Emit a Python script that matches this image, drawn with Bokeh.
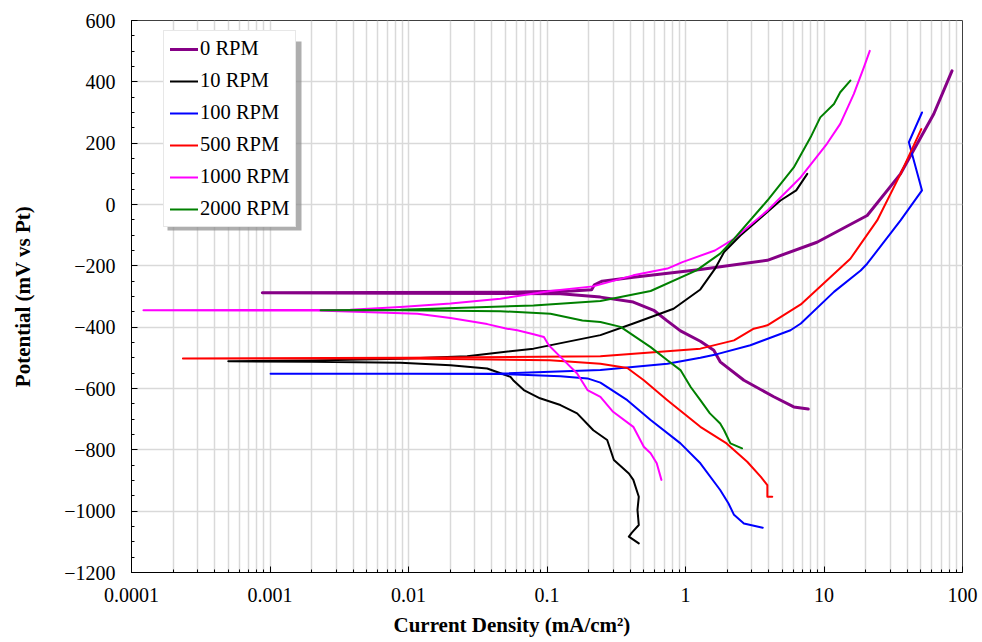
from bokeh.plotting import figure
from bokeh.models import FixedTicker, CustomJSTickFormatter, Legend, LegendItem, Title, BoxAnnotation, Node
from bokeh.embed import file_html
from bokeh.resources import INLINE

# ---- data (current density mA/cm^2, potential mV vs Pt), scan order ----
rpm0_i = [7.7, 6.05, 4.34, 2.64, 1.78, 1.6, 1.28, 0.92, 0.73, 0.59, 0.42, 0.243, 0.125, 0.0088, 0.00088,
          0.05, 0.15, 0.21, 0.22, 0.25, 0.42, 1.28, 3.9, 8.9, 20.5, 35.7, 62, 84]
rpm0_e = [-667, -660, -627, -573, -513, -475, -446, -412, -378, -345, -318, -302, -291, -289, -288,
          -286, -282, -278, -262, -250, -237, -212, -182, -123, -36, 100, 295, 436]

rpm10_i = [0.46, 0.39, 0.41, 0.46, 0.45, 0.46, 0.42, 0.39, 0.304, 0.272, 0.216, 0.165, 0.125, 0.089, 0.068,
           0.057, 0.0545, 0.037, 0.0201, 0.00875, 0.002, 0.0005,
           0.002, 0.00875, 0.0265, 0.08, 0.243, 0.42, 0.82, 1.28, 1.63, 1.9, 2.49, 4.85, 6.3, 7.57]
rpm10_e = [-1105, -1083, -1070, -1045, -996, -953, -898, -877, -833, -768, -736, -681, -654, -632, -605,
           -573, -562, -535, -524, -516, -513, -511,
           -509, -503, -495, -470, -426, -388, -340, -277, -210, -155, -101, 13, 46, 100]

rpm100_i = [3.61, 2.64, 2.24, 2.04, 1.78, 1.28, 0.92, 0.56, 0.38, 0.243, 0.196, 0.125, 0.046, 0.01, 0.00101,
            0.01, 0.046, 0.243, 0.74, 1.28, 1.69, 2.94, 5.73, 6.8, 11.8, 18.4, 20.5, 35.7, 51, 41, 51]
rpm100_e = [-1054, -1040, -1012, -974, -931, -844, -779, -703, -638, -581, -567, -560, -553, -552, -552,
            -552, -551, -540, -519, -500, -488, -459, -410, -388, -285, -215, -193, -52, 46, 203, 300]

rpm500_i = [4.23, 3.9, 3.9, 3.5, 2.79, 1.98, 1.28, 0.74, 0.5, 0.38, 0.243, 0.105, 0.01, 0.000235,
            0.01, 0.243, 1.28, 2.24, 3.11, 3.9, 6.8, 15.5, 24.2, 35.7, 50.4]
rpm500_e = [-953, -953, -915, -888, -839, -779, -725, -638, -573, -533, -519, -508, -502, -502,
            -500, -495, -470, -443, -405, -394, -326, -177, -52, 100, 246]

rpm1000_i = [0.67, 0.62, 0.56, 0.5, 0.42, 0.30, 0.243, 0.196, 0.165, 0.125, 0.103, 0.095, 0.08, 0.061, 0.0515,
             0.037, 0.0201, 0.0116, 0.00219, 0.000122,
             0.0038, 0.00875, 0.0201, 0.046, 0.106, 0.215, 0.42, 0.74, 0.95, 1.63, 2.24, 3.9, 6.8, 10.5, 13.1,
             16.4, 19.4, 21.4]
rpm1000_e = [-898, -844, -811, -790, -725, -676, -627, -605, -551, -497, -459, -432, -423, -410, -405,
             -390, -370, -356, -346, -345,
             -343, -334, -323, -307, -282, -267, -231, -209, -188, -150, -112, -20, 89, 198, 263,
             360, 447, 501]

rpm2000_i = [2.56, 2.11, 1.9, 1.78, 1.5, 1.28, 1.09, 0.92, 0.74, 0.56, 0.34, 0.243, 0.18, 0.106, 0.046,
             0.00875, 0.00232,
             0.00875, 0.08, 0.243, 0.56, 1.2, 1.78, 2.24, 3.9, 6.05, 8.0, 9.4, 11.8, 13.1, 15.5]
rpm2000_e = [-795, -779, -736, -714, -681, -638, -595, -540, -508, -465, -399, -383, -378, -356, -348,
             -345, -345,
             -343, -329, -315, -282, -215, -160, -112, 13, 121, 219, 284, 328, 366, 404]

series_labels = ["0 RPM", "10 RPM", "100 RPM", "500 RPM", "1000 RPM", "2000 RPM"]
series_i = [rpm0_i, rpm10_i, rpm100_i, rpm500_i, rpm1000_i, rpm2000_i]
series_e = [rpm0_e, rpm10_e, rpm100_e, rpm500_e, rpm1000_e, rpm2000_e]
series_colors = ["#860086", "#000000", "#0000FF", "#FF0000", "#FF00FF", "#008000"]
series_widths = [3, 2, 2, 2, 2, 2]

x_major = [0.0001, 0.001, 0.01, 0.1, 1, 10, 100]
x_minor = [m * d for d in [0.0001, 0.001, 0.01, 0.1, 1, 10] for m in range(2, 10)]
y_major = list(range(-1200, 601, 200))
y_minor = list(range(-1200, 601, 50))
x_title = "Current Density (mA/cm\u00b2)"
y_title = "Potential (mV vs Pt)"

FONT = "Liberation Serif"

p = figure(width=982, height=642, x_axis_type="log", x_range=(0.0001, 100), y_range=(-1200, 600),
           output_backend="svg", toolbar_location=None,
           min_border_left=131, min_border_right=20, min_border_top=20, min_border_bottom=69)
p.background_fill_color = "white"
p.border_fill_color = "white"
p.outline_line_color = "#404040"
p.outline_line_width = 1

p.xaxis.ticker = FixedTicker(ticks=x_major, minor_ticks=x_minor)
p.yaxis.ticker = FixedTicker(ticks=y_major, minor_ticks=y_minor)
p.xaxis.formatter = CustomJSTickFormatter(code="return Number(tick.toPrecision(6)).toString();")

for ax in (p.xaxis[0], p.yaxis[0]):
    ax.major_label_text_font = FONT
    ax.major_label_text_font_size = "20px"
    ax.major_label_text_color = "black"
    ax.axis_label_text_font = FONT
    ax.axis_label_text_font_style = "bold"
    ax.axis_label_text_color = "black"
    ax.axis_line_color = "black"
    ax.major_tick_in = 6
    ax.major_tick_out = 0
    ax.minor_tick_in = 3
    ax.minor_tick_out = 0
    ax.major_tick_line_color = "black"
    ax.minor_tick_line_color = "black"

p.yaxis.axis_label = y_title
p.yaxis.axis_label_text_font_size = "21px"
p.yaxis.axis_label_standoff = 26
p.xaxis.major_label_standoff = 15
p.yaxis.major_label_standoff = 16

# x-axis title offset from the frame centre, as in the reference
xtitle = Title(text=x_title, align="left", offset=262, standoff=12,
               text_font=FONT, text_font_size="21px", text_font_style="bold", text_color="black")
p.add_layout(xtitle, "below")

p.xgrid.grid_line_color = "#d9d9d9"
p.xgrid.grid_line_width = 1.5
p.xgrid.minor_grid_line_color = "#d9d9d9"
p.xgrid.minor_grid_line_width = 1.5
p.ygrid.grid_line_color = "#d9d9d9"
p.ygrid.grid_line_width = 1.5

items = []
for lab, xi, ye, col, w in zip(series_labels, series_i, series_e, series_colors, series_widths):
    r = p.line(xi, ye, line_color=col, line_width=w, line_join="round", line_cap="round")
    items.append(LegendItem(label=lab, renderers=[r]))

# legend drop shadow (frame-relative pixel offsets)
shadow = BoxAnnotation(left=Node(target="frame", symbol="left", offset=36),
                       right=Node(target="frame", symbol="left", offset=170),
                       top=Node(target="frame", symbol="top", offset=21),
                       bottom=Node(target="frame", symbol="top", offset=210),
                       fill_color="#8c8c8c", fill_alpha=0.7, line_color=None, level="overlay")
p.add_layout(shadow)

legend = Legend(items=items, location=(32, 345), background_fill_color="white", background_fill_alpha=1,
                border_line_color="#cfcfcf", label_text_color="black",
                label_text_font=FONT, label_text_font_size="20.5px", glyph_width=28, glyph_height=22,
                label_height=22, spacing=9, padding=6, margin=0, label_standoff=2)
p.add_layout(legend)

open("out.html", "w").write(file_html(p, INLINE))
